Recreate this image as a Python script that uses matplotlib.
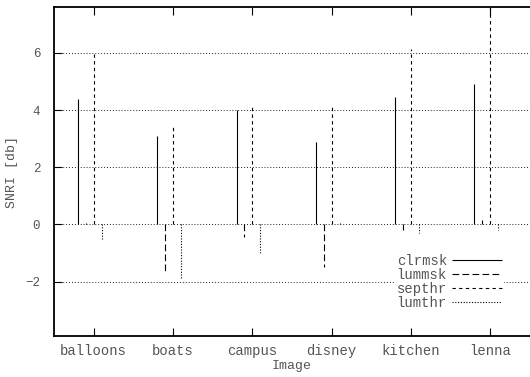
import numpy as np
import matplotlib
matplotlib.use('Agg')
import matplotlib.pyplot as plt

images = ['balloons', 'boats', 'campus', 'disney', 'kitchen', 'lenna']
clrmsk = [4.4, 3.1, 4.0, 2.9, 4.45, 4.9]
lummsk = [0.05, -1.65, -0.45, -1.5, -0.2, 0.15]
septhr = [6.0, 3.45, 4.2, 4.2, 6.15, 9.0]
lumthr = [-0.55, -1.9, -1.0, 0.05, -0.3, -0.2]

series = [
    ('clrmsk', clrmsk, '-', -0.2),
    ('lummsk', lummsk, (0, (6, 3)), -0.1),
    ('septhr', septhr, (0, (3, 3)), 0.0),
    ('lumthr', lumthr, (0, (1, 1.5)), 0.1),
]

plt.rcParams['font.family'] = ['Liberation Mono', 'DejaVu Sans Mono']
plt.rcParams['font.size'] = 10
txt = '#555555'

fig = plt.figure(figsize=(5.3, 3.77), dpi=100)
ax = fig.add_axes([0.102, 0.109, 0.898, 0.872])

x = np.arange(len(images))
for name, vals, ls, off in series:
    ax.vlines(x + off, 0, vals, colors='black', linestyles=ls,
              linewidth=0.8, label=name)

ax.set_xlim(-0.5, 5.5)
ax.set_ylim(-3.9, 7.6)
ax.set_xticks(x)
ax.set_xticklabels(images)
ax.set_yticks([-2, 0, 2, 4, 6])
ax.yaxis.grid(True, linestyle=(0, (1, 2)), color='#222222', linewidth=0.7)
ax.set_axisbelow(True)
ax.tick_params(axis='x', direction='in', top=True, length=6, pad=6,
               colors='black', labelcolor=txt)
ax.tick_params(axis='y', direction='in', length=6, pad=10,
               colors='black', labelcolor=txt, labelsize=9)
ax.spines['right'].set_visible(False)
for s in ['left', 'top', 'bottom']:
    ax.spines[s].set_linewidth(1.3)

ax.set_xlabel('Image', color=txt, labelpad=1, fontsize=9.5)
ax.set_ylabel('SNRI [db]', color=txt, labelpad=5, fontsize=9.5)

leg = ax.legend(loc='lower right', bbox_to_anchor=(0.945, 0.075), markerfirst=False,
                frameon=True, handlelength=3.6, labelspacing=0.0,
                borderpad=0.1, handletextpad=0.4, borderaxespad=0)
leg.get_frame().set_edgecolor('none')
leg.get_frame().set_facecolor('white')
leg.get_frame().set_alpha(1)
for t in leg.get_texts():
    t.set_ha('right')
    t.set_color(txt)

fig.savefig('out.png', dpi=100)
